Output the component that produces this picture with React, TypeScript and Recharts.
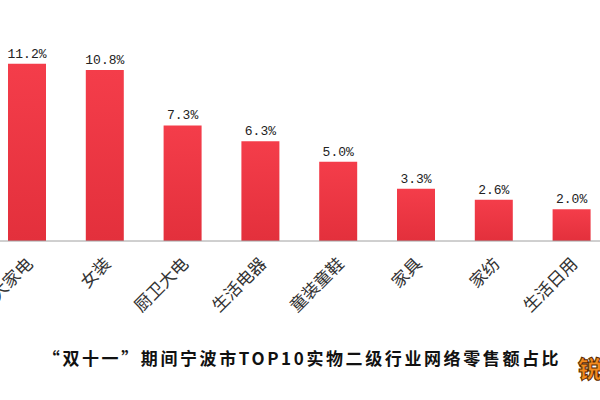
import { BarChart, Bar, XAxis, YAxis, LabelList } from "recharts";

const categories = ["大家电", "女装", "厨卫大电", "生活电器", "童装童鞋", "家具", "家纺", "生活日用", "母婴用品", "男装"];
const shares = [11.2, 10.8, 7.3, 6.3, 5.0, 3.3, 2.6, 2.0, 1.8, 1.6];

const data = categories.map((name, i) => ({ name, share: shares[i] }));

const CJK = '"Noto Sans CJK SC", "Noto Sans", sans-serif';

function SlantTick(props: any) {
  const { x, y, payload } = props;
  const tx = x + 7;
  const ty = y + 16;
  return (
    <text
      x={tx}
      y={ty}
      transform={`rotate(-45 ${tx} ${ty})`}
      textAnchor="end"
      fontSize={17}
      fontFamily={CJK}
      fill="#333"
    >
      {payload.value}
    </text>
  );
}

export default function App() {
  return (
    <div
      style={{
        position: "absolute",
        left: 0,
        top: 0,
        width: 600,
        height: 400,
        overflow: "hidden",
        background: "#fff",
      }}
    >
      <div style={{ position: "absolute", left: -12, top: 0 }}>
        <BarChart width={800} height={400} data={data} margin={{ top: 51, right: 22, left: 0, bottom: 0 }}>
          <defs>
            <linearGradient id="redBar" x1="0" y1="0" x2="0" y2="1">
              <stop offset="0%" stopColor="#f43d4a" />
              <stop offset="100%" stopColor="#e3303c" />
            </linearGradient>
          </defs>
          <XAxis
            dataKey="name"
            height={159}
            interval={0}
            tickLine={false}
            stroke="#a0a0a0"
            tick={<SlantTick />}
          />
          <YAxis hide domain={[0, 12]} />
          <Bar dataKey="share" fill="url(#redBar)" barSize={38} isAnimationActive={false}>
            <LabelList
              dataKey="share"
              position="top"
              offset={6}
              formatter={(v: any) => `${Number(v).toFixed(1)}%`}
              style={{ fontFamily: '"Liberation Mono", monospace', fontSize: 13, fill: "#222" }}
            />
          </Bar>
        </BarChart>
      </div>
      <div
        style={{
          position: "absolute",
          left: 0,
          width: 604,
          top: 345,
          textAlign: "center",
          fontFamily: CJK,
          fontWeight: 700,
          fontSize: 17,
          letterSpacing: 2.6,
          color: "#111",
        }}
      >
        “双十一”期间宁波市TOP10实物二级行业网络零售额占比
      </div>
      <div
        style={{
          position: "absolute",
          left: 578,
          top: 350,
          fontFamily: CJK,
          fontWeight: 900,
          fontSize: 24,
          color: "#f28a1e",
          WebkitTextStroke: "1px #5a2a00",
        }}
      >
        锐
      </div>
    </div>
  );
}
